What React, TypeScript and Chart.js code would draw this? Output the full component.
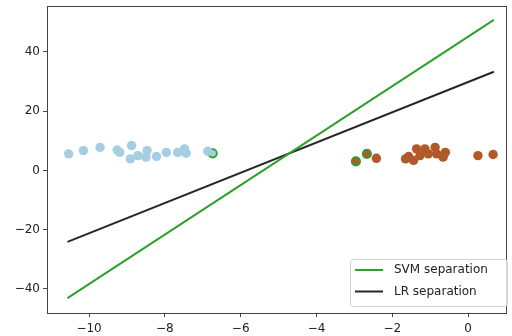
import React, { useEffect, useRef } from "react";
import { Chart, registerables } from "chart.js";

Chart.register(...registerables);

const blueX = [-10.54, -10.15, -9.71, -9.26, -9.19, -8.88, -8.91, -8.71, -8.5, -8.47, -8.22, -7.96, -7.66, -7.48, -7.44, -6.87];
const blueY = [5.6, 6.7, 7.8, 6.9, 6.1, 8.4, 3.9, 5.0, 4.5, 6.7, 4.7, 6.1, 6.1, 7.3, 5.8, 6.5];
const orangeX = [-2.42, -1.65, -1.57, -1.44, -1.36, -1.27, -1.14, -1.05, -0.87, -0.83, -0.66, -0.6, 0.26, 0.66];
const orangeY = [4.1, 3.9, 4.7, 3.4, 7.3, 5.0, 7.3, 5.6, 7.8, 5.6, 4.5, 6.1, 5.0, 5.4];
const svBlueX = [-6.74];
const svBlueY = [5.8];
const svOrangeX = [-2.96, -2.67];
const svOrangeY = [3.1, 5.6];
const lineX = [-10.57, 0.68];
const svmY = [-43.1, 50.8];
const lrY = [-24.1, 33.3];
const xTicks = [-10, -8, -6, -4, -2, 0];
const yTicks = [-40, -20, 0, 20, 40];
const legendLabels = ["SVM separation", "LR separation"];

const pts = (xs: number[], ys: number[]) => xs.map((x, i) => ({ x, y: ys[i] }));

const BLUE = "#a6cee3";
const ORANGE = "#b15928";
const GREEN = "#2ca02c";
const BLACK = "#262626";

export default function App() {
  const ref = useRef<HTMLCanvasElement | null>(null);
  useEffect(() => {
    document.body.style.margin = "0";
    if (!ref.current) return;
    const framePlugin = {
      id: "frame",
      afterDatasetsDraw(chart: any) {
        const { ctx, chartArea: a } = chart;
        ctx.save();
        ctx.strokeStyle = "#444";
        ctx.lineWidth = 1;
        ctx.strokeRect(Math.round(a.left) + 0.5, Math.round(a.top) + 0.5, Math.round(a.right - a.left), Math.round(a.bottom - a.top));
        // legend
        const bx = 350, by = 259, bw = 157, bh = 47;
        ctx.fillStyle = "rgba(255,255,255,0.8)";
        ctx.strokeStyle = "#d0d0d0";
        ctx.beginPath();
        (ctx as any).roundRect(bx + 0.5, by + 0.5, bw, bh, 3);
        ctx.fill();
        ctx.stroke();
        const colors = [GREEN, BLACK];
        legendLabels.forEach((lab, i) => {
          const y = 270 + i * 21.5;
          ctx.strokeStyle = colors[i];
          ctx.lineWidth = 2;
          ctx.beginPath();
          ctx.moveTo(355, y);
          ctx.lineTo(383, y);
          ctx.stroke();
          ctx.fillStyle = "#222";
          ctx.font = "12px 'DejaVu Sans'";
          ctx.textBaseline = "middle";
          ctx.textAlign = "left";
          ctx.fillText(lab, 394, y);
        });
        ctx.restore();
      },
    };
    const chart = new Chart(ref.current, {
      type: "scatter",
      data: {
        datasets: [
          { data: pts(blueX, blueY), backgroundColor: BLUE, borderColor: BLUE, pointRadius: 4.7, borderWidth: 0 },
          { data: pts(orangeX, orangeY), backgroundColor: ORANGE, borderColor: ORANGE, pointRadius: 4.7, borderWidth: 0 },
          { data: pts(svBlueX, svBlueY), backgroundColor: BLUE, borderColor: GREEN, pointRadius: 4.2, borderWidth: 1.8 },
          { data: pts(svOrangeX, svOrangeY), backgroundColor: ORANGE, borderColor: GREEN, pointRadius: 4.2, borderWidth: 1.8 },
          { type: "line", data: pts(lineX, svmY), borderColor: GREEN, borderWidth: 2, pointRadius: 0, showLine: true, fill: false } as any,
          { type: "line", data: pts(lineX, lrY), borderColor: BLACK, borderWidth: 2, pointRadius: 0, showLine: true, fill: false } as any,
        ],
      },
      options: {
        animation: false,
        responsive: false,
        layout: { padding: { left: 0, right: 4, top: 5, bottom: 0 } },
        plugins: { legend: { display: false }, tooltip: { enabled: false } },
        scales: {
          x: {
            type: "linear",
            min: -11.11,
            max: 1.0,
            afterBuildTicks: (s: any) => { s.ticks = xTicks.map((v) => ({ value: v })); },
            afterFit: (s: any) => { s.height = 23; s.paddingLeft = 0; s.paddingRight = 0; },
            grid: { drawOnChartArea: false, drawTicks: true, tickLength: 4, color: "#444" },
            border: { display: false },
            ticks: { color: "#222", font: { family: "'DejaVu Sans'", size: 12 }, padding: 5, maxRotation: 0, callback: (v: any) => (v < 0 ? "\u2212" + Math.abs(v) : String(v)) },
          },
          y: {
            type: "linear",
            min: -48.1,
            max: 55.5,
            afterBuildTicks: (s: any) => { s.ticks = yTicks.map((v) => ({ value: v })); },
            afterFit: (s: any) => { s.width = 47; s.paddingTop = 0; s.paddingBottom = 0; },
            grid: { drawOnChartArea: false, drawTicks: true, tickLength: 4, color: "#444" },
            border: { display: false },
            ticks: { color: "#222", font: { family: "'DejaVu Sans'", size: 12 }, padding: 3, callback: (v: any) => (v < 0 ? "\u2212" + Math.abs(v) : String(v)) },
          },
        },
      },
      plugins: [framePlugin],
    });
    return () => chart.destroy();
  }, []);
  return (
    <div style={{ width: 512, height: 336 }}>
      <canvas ref={ref} width={512} height={336} style={{ display: "block" }} />
    </div>
  );
}
